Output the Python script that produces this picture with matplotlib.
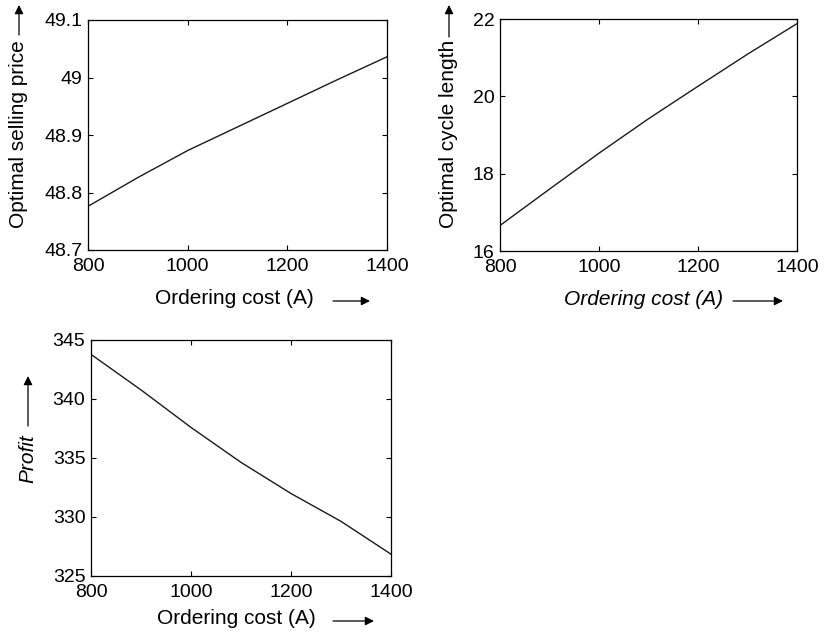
import matplotlib
matplotlib.use('Agg')
import matplotlib.pyplot as plt

plt.rcParams['font.family'] = ['Liberation Sans', 'DejaVu Sans']

# Datos
ordering_cost = [800, 900, 1000, 1100, 1200, 1300, 1400]
selling_price = [48.776, 48.826, 48.873, 48.914, 48.955, 48.996, 49.036]
cycle_length = [16.66, 17.60, 18.53, 19.42, 20.26, 21.09, 21.88]
profit = [343.78, 340.77, 337.59, 334.63, 331.99, 329.63, 326.85]

x_ticks = [800, 1000, 1200, 1400]
price_ticks = [48.7, 48.8, 48.9, 49, 49.1]
price_labels = ['48.7', '48.8', '48.9', '49', '49.1']
cycle_ticks = [16, 18, 20, 22]
profit_ticks = [325, 330, 335, 340, 345]

W, H = 824, 634
fig = plt.figure(figsize=(W / 100, H / 100), dpi=100)

TAM_TICK = 14
TAM_LABEL = 15


def caja(left, top, right, bottom):
    # convierte pixeles a fracciones de la figura
    return [left / W, 1 - bottom / H, (right - left) / W, (bottom - top) / H]


def flecha(x0, y0, x1, y1):
    fig.add_artist(matplotlib.patches.FancyArrowPatch(
        (x0 / W, 1 - y0 / H), (x1 / W, 1 - y1 / H),
        transform=fig.transFigure, arrowstyle='-|>', mutation_scale=13,
        color='black', lw=0.9, shrinkA=0, shrinkB=0))


def estilo(ax):
    ax.tick_params(direction='in', length=3.5, width=0.8, top=True, right=True,
                   labelsize=TAM_TICK, pad=4, colors='black')
    ax.tick_params(axis='x', pad=6)
    for s in ax.spines.values():
        s.set_linewidth(0.9)
    ax.set_xlim(800, 1400)
    ax.set_xticks(x_ticks)


# Grafica 1: precio de venta optimo
ax1 = fig.add_axes(caja(88, 20, 387, 250))
ax1.plot(ordering_cost, selling_price, color='#1a1a1a', lw=1.0)
estilo(ax1)
ax1.set_ylim(48.7, 49.1)
ax1.set_yticks(price_ticks)
ax1.set_yticklabels(price_labels)
ax1.set_xlabel('Ordering cost (A)', fontsize=TAM_LABEL, va='center')
ax1.xaxis.set_label_coords(0.488, -0.213)
ax1.set_ylabel('Optimal selling price', fontsize=TAM_LABEL, va='center')
ax1.yaxis.set_label_coords(-0.231, 0.504)
flecha(333, 301, 370, 301)
flecha(19, 35, 19, 5)

# Grafica 2: longitud del ciclo optimo
ax2 = fig.add_axes(caja(500, 19, 797, 251))
ax2.plot(ordering_cost, cycle_length, color='#1a1a1a', lw=1.0)
estilo(ax2)
ax2.set_ylim(16, 22)
ax2.set_yticks(cycle_ticks)
ax2.set_xlabel('Ordering cost (A)', fontsize=TAM_LABEL, style='italic', va='center')
ax2.xaxis.set_label_coords(0.485, -0.207)
ax2.set_ylabel('Optimal cycle length', fontsize=TAM_LABEL, va='center')
ax2.yaxis.set_label_coords(-0.175, 0.506)
flecha(733, 301, 783, 301)
flecha(449, 37, 449, 5)

# Grafica 3: beneficio
ax3 = fig.add_axes(caja(91, 340, 391, 576))
ax3.plot(ordering_cost, profit, color='#1a1a1a', lw=1.0)
estilo(ax3)
ax3.set_ylim(325, 345)
ax3.set_yticks(profit_ticks)
ax3.set_xlabel('Ordering cost (A)', fontsize=TAM_LABEL, va='center')
ax3.xaxis.set_label_coords(0.485, -0.178)
ax3.set_ylabel('Profit', fontsize=TAM_LABEL, style='italic', va='center')
ax3.yaxis.set_label_coords(-0.21, 0.496)
flecha(333, 621, 374, 621)
flecha(28, 426, 28, 376)

fig.savefig('out.png', dpi=100, facecolor='white')
